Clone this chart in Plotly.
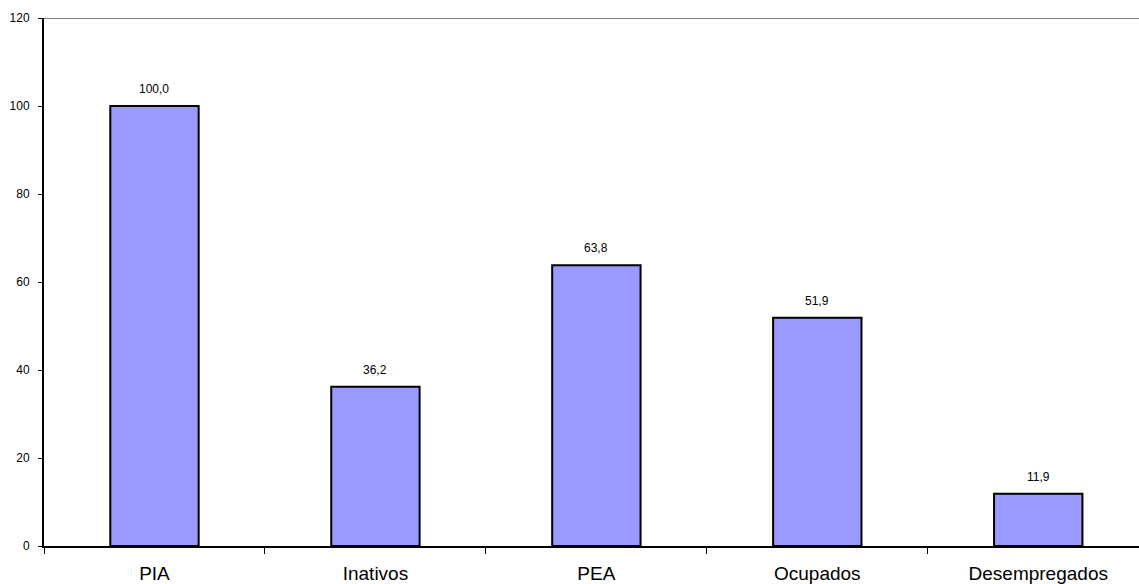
import plotly.graph_objects as go

categories = ["PIA", "Inativos", "PEA", "Ocupados", "Desempregados"]
values = [100.0, 36.2, 63.8, 51.9, 11.9]
y_ticks = [0, 20, 40, 60, 80, 100, 120]

FONT = "Liberation Sans, Arial, sans-serif"

fig = go.Figure()
fig.add_trace(go.Bar(
    x=categories,
    y=values,
    width=0.4,
    marker=dict(color="#9999FF", line=dict(color="#000000", width=2)),
    hoverinfo="x+y",
))

# value labels above each bar
for cat, val in zip(categories, values):
    fig.add_annotation(
        x=cat, y=val, text=f"{val:.1f}".replace(".", ","),
        showarrow=False, yanchor="middle", yshift=17,
        font=dict(family=FONT, size=12, color="#000000"),
    )

# grey top frame line of the plot area
fig.add_shape(type="line", xref="paper", yref="y", x0=0, x1=1, y0=120, y1=120,
              line=dict(color="#808080", width=2))

fig.update_layout(
    width=1139, height=584,
    margin=dict(l=44, r=0, t=18, b=38),
    paper_bgcolor="white", plot_bgcolor="white",
    separators=",.",
    showlegend=False,
    bargap=0.6,
    font=dict(family=FONT, color="#000000"),
)
fig.update_xaxes(
    type="category",
    range=[-0.5, 4.456],
    showline=True, linecolor="#000000", linewidth=2,
    ticks="outside", tickson="boundaries", ticklen=6, tickwidth=1, tickcolor="#000000",
    tickfont=dict(family=FONT, size=19, color="#000000"),
    ticklabelstandoff=9,
    showgrid=False, zeroline=False, automargin=False,
)
fig.update_yaxes(
    range=[0, 120],
    tickvals=y_ticks,
    showline=True, linecolor="#000000", linewidth=2,
    ticks="outside", ticklen=4, tickwidth=1, tickcolor="#000000",
    tickfont=dict(family=FONT, size=12, color="#000000"),
    ticklabelstandoff=6,
    showgrid=False, zeroline=False, automargin=False,
)

fig.write_html("out.html")
